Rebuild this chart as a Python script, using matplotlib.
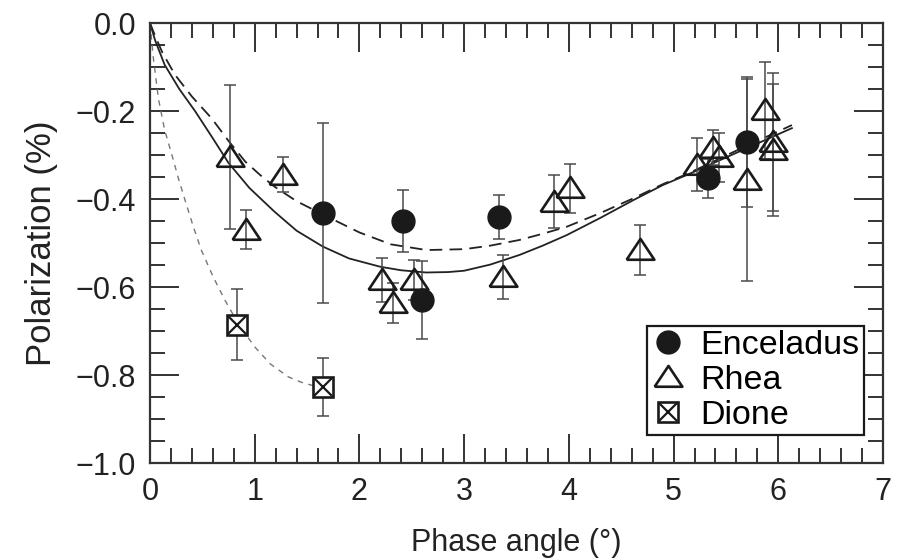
import matplotlib
matplotlib.use("Agg")
import matplotlib.pyplot as plt
from matplotlib.ticker import MultipleLocator
from matplotlib.legend_handler import HandlerTuple
import numpy as np

plt.rcParams['font.family'] = ['Liberation Sans', 'DejaVu Sans']

# observations: phase angle (deg), polarization (%), 1-sigma error
enc_x = [1.65, 2.42, 2.60, 3.33, 5.33, 5.70]
enc_y = [-0.432, -0.450, -0.630, -0.442, -0.353, -0.270]
enc_e = [0.205, 0.070, 0.088, 0.050, 0.045, 0.148]

rhea_x = [0.76, 0.92, 1.27, 2.22, 2.32, 2.52, 3.37, 3.86, 4.01, 4.68,
          5.22, 5.38, 5.43, 5.70, 5.87, 5.95, 5.95]
rhea_y = [-0.305, -0.470, -0.345, -0.584, -0.636, -0.584, -0.577, -0.406, -0.376, -0.516,
          -0.322, -0.283, -0.305, -0.357, -0.198, -0.270, -0.289]
rhea_e = [0.163, 0.044, 0.040, 0.050, 0.045, 0.045, 0.050, 0.060, 0.055, 0.057,
          0.060, 0.040, 0.056, 0.230, 0.110, 0.157, 0.150]

dio_x = [0.83, 1.65]
dio_y = [-0.686, -0.828]
dio_e = [0.081, 0.066]

# fitted phase curves
fit_rhea_x = [0, 0.05, 0.14, 0.28, 0.43, 0.6, 0.75, 0.95, 1.19, 1.4, 1.65, 1.9, 2.2, 2.4,
              2.64, 2.85, 3.0, 3.25, 3.53, 3.75, 3.98, 4.3, 4.62, 4.9, 5.13, 5.6, 6.13]
fit_rhea_y = [0, -0.040, -0.095, -0.150, -0.200, -0.262, -0.318, -0.375, -0.429, -0.472,
              -0.508, -0.535, -0.554, -0.562, -0.567, -0.566, -0.563, -0.549, -0.527, -0.506,
              -0.482, -0.443, -0.402, -0.368, -0.345, -0.295, -0.239]
fit_enc_x = [0, 0.05, 0.12, 0.24, 0.4, 0.59, 0.75, 0.91, 1.05, 1.19, 1.4, 1.65, 2.0, 2.3,
             2.64, 3.0, 3.25, 3.53, 3.75, 3.98, 4.3, 4.62, 4.9, 5.13, 5.6, 6.13]
fit_enc_y = [0, -0.030, -0.068, -0.118, -0.167, -0.217, -0.268, -0.315, -0.345, -0.372,
             -0.405, -0.435, -0.476, -0.503, -0.516, -0.514, -0.506, -0.493, -0.479,
             -0.463, -0.432, -0.398, -0.366, -0.343, -0.290, -0.232]
fit_dio_x = [0, 0.03, 0.08, 0.14, 0.21, 0.27, 0.334, 0.41, 0.49, 0.6, 0.716, 0.85, 1.0,
             1.15, 1.32, 1.44, 1.54, 1.65]
fit_dio_y = [0, -0.075, -0.171, -0.243, -0.300, -0.352, -0.402, -0.460, -0.516, -0.575,
             -0.630, -0.686, -0.736, -0.775, -0.804, -0.816, -0.823, -0.830]

fig = plt.figure(figsize=(8.97, 5.6), dpi=100)
ax = fig.add_axes([0.1672, 0.1732, 0.8172, 0.7857])

ax.plot(fit_rhea_x, fit_rhea_y, '-', color='#222222', lw=1.3, zorder=2)
ax.plot(fit_enc_x, fit_enc_y, '-', color='#222222', lw=1.3, dashes=(7, 4), zorder=2)
ax.plot(fit_dio_x, fit_dio_y, '-', color='#777777', lw=1.0, dashes=(4, 4), zorder=2)

ebkw = dict(fmt='none', ecolor='#4a4a4a', elinewidth=1.1, capsize=4, capthick=1.1, zorder=3)
ax.errorbar(enc_x, enc_y, yerr=enc_e, **ebkw)
ax.errorbar(rhea_x, rhea_y, yerr=rhea_e, **ebkw)
ax.errorbar(dio_x, dio_y, yerr=dio_e, **ebkw)

tri = [(-1.2, -0.8), (1.2, -0.8), (0, 1.0), (-1.2, -0.8)]
h_enc, = ax.plot(enc_x, enc_y, 'o', ms=16.5, color='#1a1a1a', mec='#1a1a1a', ls='none', zorder=5)
h_rhea, = ax.plot(rhea_x, rhea_y, marker=tri, ms=20, mfc='none', mec='#1a1a1a', mew=1.9,
                  ls='none', zorder=4)
h_sq, = ax.plot(dio_x, dio_y, 's', ms=15, mfc='white', mec='#1a1a1a', mew=1.9, ls='none', zorder=4)
h_x, = ax.plot(dio_x, dio_y, 'x', ms=13, mec='#1a1a1a', mew=1.6, ls='none', zorder=5)

ax.set_xlim(0, 7)
ax.set_ylim(-1.0, 0.0)
ax.xaxis.set_major_locator(MultipleLocator(1))
ax.xaxis.set_minor_locator(MultipleLocator(0.2))
ax.yaxis.set_major_locator(MultipleLocator(0.2))
ax.yaxis.set_minor_locator(MultipleLocator(0.05))
ax.yaxis.set_major_formatter(plt.FuncFormatter(
    lambda v, p: ('%.1f' % v).replace('-', '\u2212') if abs(v) > 1e-9 else '0.0'))
ax.tick_params(which='both', direction='in', top=True, right=True, width=1.4, color='#333333',
               labelsize=22, labelcolor='#222222')
ax.tick_params(which='major', length=21)
ax.tick_params(which='minor', length=11)
ax.tick_params(axis='x', which='major', pad=10)
ax.tick_params(axis='y', which='major', pad=10)
for s in ax.spines.values():
    s.set_linewidth(1.6)
    s.set_color('#333333')

ax.set_xlabel('Phase angle (°)', fontsize=22, color='#222222', labelpad=15)
ax.set_ylabel('Polarization (%)', fontsize=25, color='#222222', labelpad=13)

leg = ax.legend([h_enc, h_rhea, (h_sq, h_x)], ['Enceladus', 'Rhea', 'Dione'],
                handler_map={tuple: HandlerTuple(ndivide=1, pad=0)},
                loc='lower right', bbox_to_anchor=(0.974, 0.064), fontsize=24.5,
                markerscale=1.0, handlelength=1.0, handletextpad=0.45,
                labelspacing=0.12, borderpad=0.12, borderaxespad=0,
                fancybox=False, framealpha=1, edgecolor='#1a1a1a')
leg.get_frame().set_linewidth(1.6)

fig.savefig('out.png', dpi=100)
